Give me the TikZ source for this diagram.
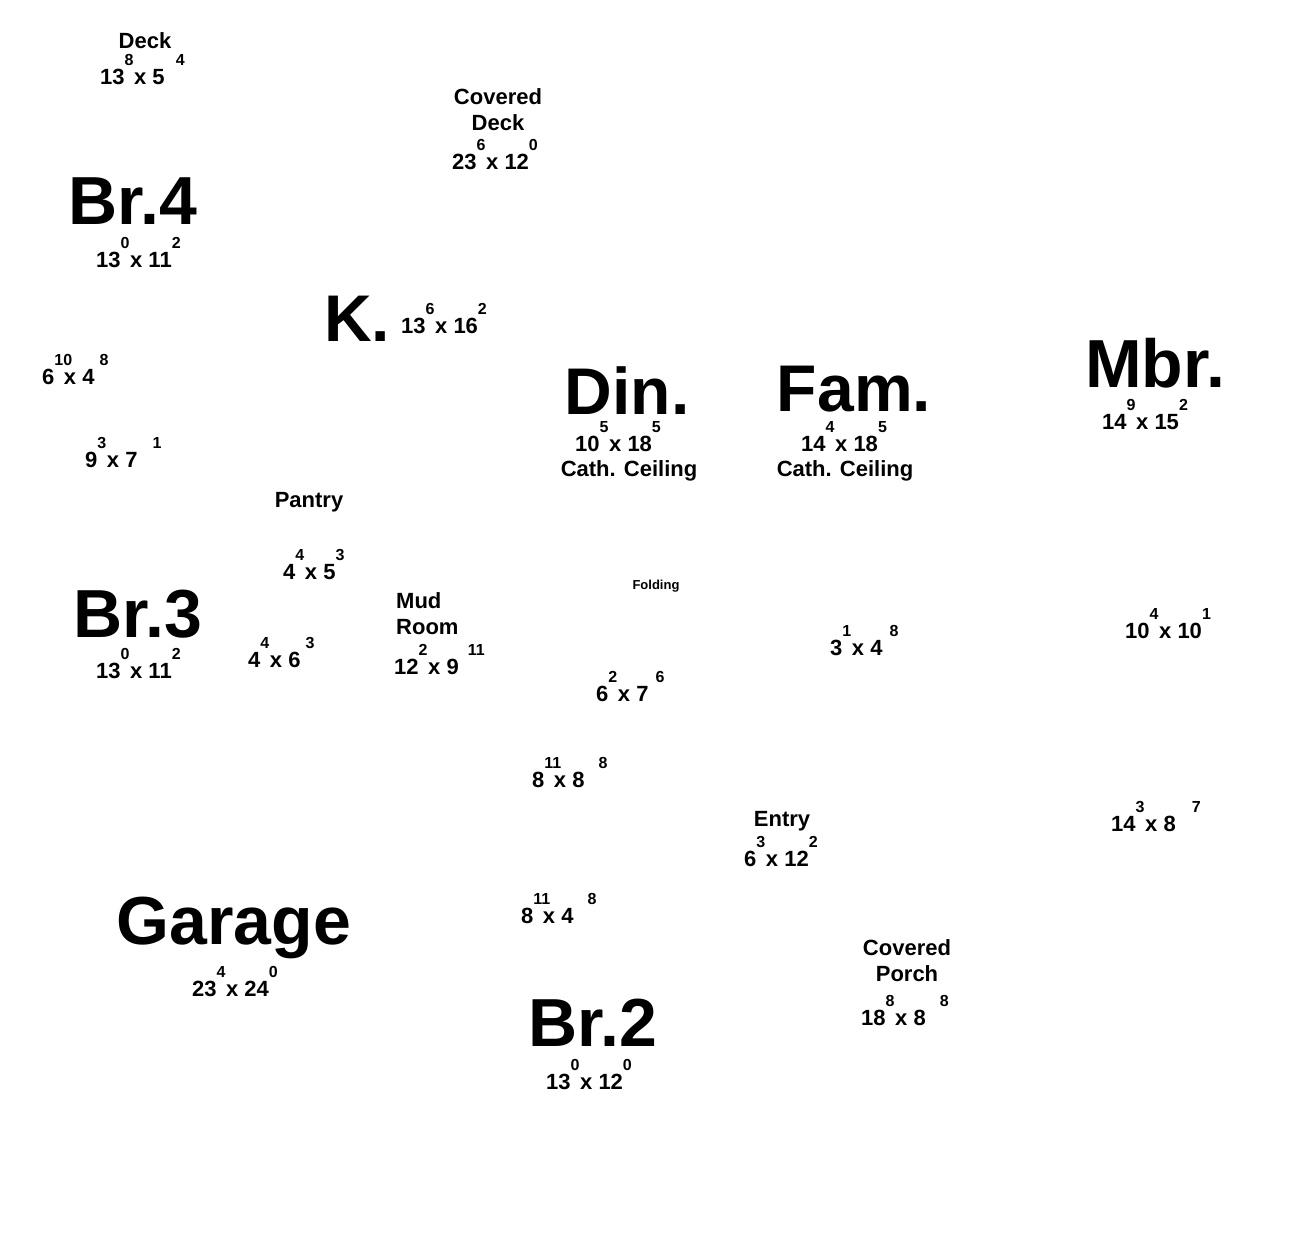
\documentclass[tikz,border=0pt]{standalone}
\usepackage{fontspec}
\setmainfont{Liberation Sans}
\newcommand{\sz}[1]{\fontsize{#1}{#1}\selectfont}
\newcommand{\rsize}[5][0pt]{#2\rlap{\raisebox{19pt}{\sz{16}#3}}\hspace{9.5pt}x\ #4\hspace{#1}\raisebox{19pt}{\sz{16}#5}}
\begin{document}
\begin{tikzpicture}[x=1pt, y=-1pt,
	roomname/.style={font=\sz{66}\bfseries, inner sep=0pt, anchor=base},
	roomwide/.style={roomname, font=\sz{68}\bfseries},
	lbl/.style={font=\fontsize{22}{26}\selectfont\bfseries, inner sep=0pt, align=center},
	dimsz/.style={font=\sz{22}\bfseries, inner sep=0pt, anchor=base west}]
	\useasboundingbox (0,0) rectangle (1300,1232);
	\node[lbl, anchor=base] (deck) at (145,48) {Deck};
	\node[dimsz] (decksz) at (100,84) {\rsize[11pt]{13}{8}{5}{4}};
	\node[lbl, anchor=north] (cdeck) at (498,88) {Covered\\Deck};
	\node[dimsz] (cdecksz) at (452,169) {\rsize{23}{6}{12}{0}};
	\node[roomwide] (br4) at (133,224) {Br.4};
	\node[dimsz] (br4sz) at (96,267) {\rsize{13}{0}{11}{2}};
	\node[roomname] (kit) at (357,341) {K.};
	\node[dimsz] (kitsz) at (401,333) {\rsize{13}{6}{16}{2}};
	\node[dimsz] (bath1) at (42,384) {\rsize[5pt]{6}{10}{4}{8}};
	\node[dimsz] (closet1) at (85,467) {\rsize[15pt]{9}{3}{7}{1}};
	\node[roomname] (din) at (627,414) {Din.};
	\node[dimsz] (dinsz) at (575,451) {\rsize{10}{5}{18}{5}};
	\node[lbl, anchor=base] (dinceil) at (629,476) {Cath. Ceiling};
	\node[roomname] (fam) at (854,411) {Fam.};
	\node[dimsz] (famsz) at (801,451) {\rsize{14}{4}{18}{5}};
	\node[lbl, anchor=base] (famceil) at (845,476) {Cath. Ceiling};
	\node[roomwide] (mbr) at (1155,387) {Mbr.};
	\node[dimsz] (mbrsz) at (1102,429) {\rsize{14}{9}{15}{2}};
	\node[lbl, anchor=base] (pantry) at (309,507) {Pantry};
	\node[dimsz] (pantrysz) at (283,579) {\rsize{4}{4}{5}{3}};
	\node[roomwide] (br3) at (138,637) {Br.3};
	\node[dimsz] (br3sz) at (96,678) {\rsize{13}{0}{11}{2}};
	\node[dimsz] (closet2) at (248,667) {\rsize[5pt]{4}{4}{6}{3}};
	\node[lbl, anchor=north west, align=left] (mud) at (396,592) {Mud\\Room};
	\node[dimsz] (mudsz) at (394,674) {\rsize[9pt]{12}{2}{9}{11}};
	\node[font=\sz{13}\bfseries, inner sep=0pt, anchor=base] (folding) at (656,589) {Folding};
	\node[dimsz] (laundry) at (596,701) {\rsize[7pt]{6}{2}{7}{6}};
	\node[dimsz] (closet3) at (830,655) {\rsize[7pt]{3}{1}{4}{8}};
	\node[dimsz] (mbath) at (1125,638) {\rsize{10}{4}{10}{1}};
	\node[dimsz] (bath2) at (532,787) {\rsize[14pt]{8}{11}{8}{8}};
	\node[lbl, anchor=base] (entry) at (782,826) {Entry};
	\node[dimsz] (entrysz) at (744,866) {\rsize{6}{3}{12}{2}};
	\node[dimsz] (wic) at (1111,831) {\rsize[16pt]{14}{3}{8}{7}};
	\node[roomwide] (garage) at (234,944) {Garage};
	\node[dimsz] (garagesz) at (192,996) {\rsize{23}{4}{24}{0}};
	\node[dimsz] (bath3) at (521,923) {\rsize[14pt]{8}{11}{4}{8}};
	\node[lbl, anchor=north] (porch) at (907,939) {Covered\\Porch};
	\node[dimsz] (porchsz) at (861,1025) {\rsize[14pt]{18}{8}{8}{8}};
	\node[roomwide] (br2) at (593,1046) {Br.2};
	\node[dimsz] (br2sz) at (546,1089) {\rsize{13}{0}{12}{0}};
\end{tikzpicture}
\end{document}
